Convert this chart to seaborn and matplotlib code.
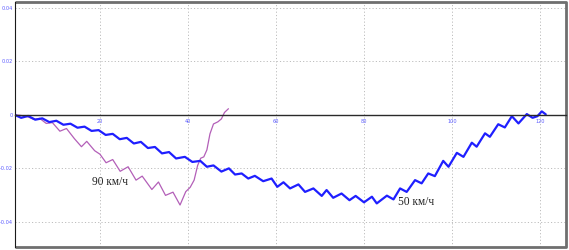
import matplotlib
matplotlib.use("Agg")
import matplotlib.pyplot as plt
import seaborn as sns
import pandas as pd

# ---- data ----
blue_x = [0.5, 2.1, 3.7, 5.3, 6.9, 8.5, 10.1, 11.7, 13.3, 14.9, 16.5, 18.1, 19.7, 21.3,
          22.9, 24.5, 26.1, 27.7, 29.3, 30.9, 32.5, 34.1, 35.7, 37.3,
          39.3, 41.0, 42.8, 44.3, 45.8, 47.6, 49.3, 50.7, 52.2, 53.7, 55.2, 57.1, 59.0,
          60.3, 61.7, 63.2, 65.1, 66.6, 68.5, 70.4, 71.5, 73.0, 74.9, 76.7, 78.1, 80.0,
          81.8, 82.9,
          85.2, 86.7, 88.2, 89.7, 91.6, 93.1, 94.6, 96.1, 98.0, 99.2, 101.1, 102.6,
          104.5, 105.6, 107.5, 108.6, 110.5, 112.0, 113.6, 115.1, 117.0, 118.3, 119.4,
          120.4, 121.3]
blue_y = [0.0000, -0.0012, -0.0005, -0.0019, -0.0014, -0.0028, -0.0023, -0.0038, -0.0034,
          -0.0049, -0.0045, -0.0061, -0.0058, -0.0076, -0.0072, -0.0092, -0.0087, -0.0108,
          -0.0102, -0.0125, -0.0121, -0.0145, -0.0140, -0.0164,
          -0.0158, -0.0177, -0.0173, -0.0195, -0.0190, -0.0213, -0.0201, -0.0224, -0.0220,
          -0.0239, -0.0229, -0.0249, -0.0239, -0.0270, -0.0253, -0.0276, -0.0261, -0.0289,
          -0.0276, -0.0304, -0.0282, -0.0311, -0.0295, -0.0320, -0.0304, -0.0328, -0.0307,
          -0.0332,
          -0.0303, -0.0317, -0.0276, -0.0289, -0.0245, -0.0257, -0.0220, -0.0230, -0.0173,
          -0.0195, -0.0143, -0.0158, -0.0105, -0.0120, -0.0070, -0.0083, -0.0036, -0.0048,
          -0.0006, -0.0033, 0.0002, -0.0012, -0.0006, 0.0012, 0.0001]

purple_x = [0.3, 2.0, 3.6, 5.0, 6.3, 7.8, 9.2, 10.9, 12.4, 14.2, 15.8, 17.0, 18.8, 20.0,
            21.4, 22.9, 24.6, 26.4, 28.2, 29.6, 31.8, 33.3, 34.9, 36.6, 38.2, 39.5, 40.5,
            41.4, 42.2, 42.9, 43.6, 44.3, 45.0, 45.8, 46.8, 47.6, 48.3, 49.2]
purple_y = [0.0000, -0.0003, -0.0008, -0.0018, -0.0014, -0.0033, -0.0030, -0.0062, -0.0052,
            -0.0090, -0.0120, -0.0100, -0.0135, -0.0148, -0.0180, -0.0168, -0.0212, -0.0195,
            -0.0245, -0.0230, -0.0280, -0.0252, -0.0302, -0.0290, -0.0338, -0.0288, -0.0272,
            -0.0245, -0.0190, -0.0163, -0.0158, -0.0132, -0.0072, -0.0035, -0.0027, -0.0016,
            0.0008, 0.0022]

label_90 = "90 км/ч"
label_50 = "50 км/ч"
x_ticks = [20, 40, 60, 80, 100, 120]
y_ticks = [-0.04, -0.02, 0, 0.02, 0.04]
y_tick_labels = ["-0.04", "-0.02", "0", "0.02", "0.04"]

df_blue = pd.DataFrame({"x": blue_x, "y": blue_y})
df_purple = pd.DataFrame({"x": purple_x, "y": purple_y})

sns.set_style("white")
fig = plt.figure(figsize=(5.69, 2.5), dpi=100)
ax = fig.add_axes([15 / 569, 3 / 250, 551 / 569, 245 / 250])

sns.lineplot(data=df_purple, x="x", y="y", ax=ax, sort=False, estimator=None,
             color="#b35fb8", linewidth=0.9, solid_joinstyle="round")
sns.lineplot(data=df_blue, x="x", y="y", ax=ax, sort=False, estimator=None,
             color="#1f1fff", linewidth=1.6, solid_joinstyle="round")

ax.set_xlim(0.7, 125.9)
ax.set_ylim(-0.0495, 0.0421)

ax.set_xticks(x_ticks)
ax.set_xticklabels([str(t) for t in x_ticks])
ax.set_xticks([t for t in range(4, 126, 4) if t % 20 != 0], minor=True)
ax.set_yticks(y_ticks)
ax.set_yticklabels(y_tick_labels)
minor_y = []
for i in range(23):
    v = round(-0.048 + 0.004 * i, 3)
    if abs(v * 50 - round(v * 50)) > 1e-6:
        minor_y.append(v)
ax.set_yticks(minor_y, minor=True)

ax.grid(True, which="major", linestyle=(0, (1.2, 2.2)), color="#bdbdbd", linewidth=0.7)
ax.set_axisbelow(True)

ax.spines["bottom"].set_position(("data", 0))
ax.spines["bottom"].set_color("#2a2a2a")
ax.spines["bottom"].set_linewidth(1.0)
ax.spines["left"].set_color("#1a1a1a")
ax.spines["left"].set_linewidth(0.8)
ax.spines["top"].set_visible(False)
ax.spines["right"].set_visible(False)
# outer gray frame (top, right, bottom)
ax.plot([0, 1, 1, 0], [1, 1, 0, 0], transform=ax.transAxes, color="#6f6f6f",
        linewidth=2.0, clip_on=False, solid_capstyle="butt")

ax.tick_params(axis="x", which="both", direction="out", length=2.0, width=0.6,
               color="#2a2a2a", labelsize=3.6, labelcolor="#5a5aff", pad=1.0)
ax.tick_params(axis="y", which="both", direction="in", length=2.0, width=0.6,
               color="#2a2a2a", labelsize=3.6, labelcolor="#5a5aff", pad=1.5)
ax.set_xlabel("")
ax.set_ylabel("")

ax.text(22.3, -0.0252, label_90, family="Liberation Serif", fontsize=8.3,
        ha="center", va="center", color="#222222")
ax.text(91.8, -0.0327, label_50, family="Liberation Serif", fontsize=8.3,
        ha="center", va="center", color="#222222")

fig.savefig("out.png", dpi=100)
